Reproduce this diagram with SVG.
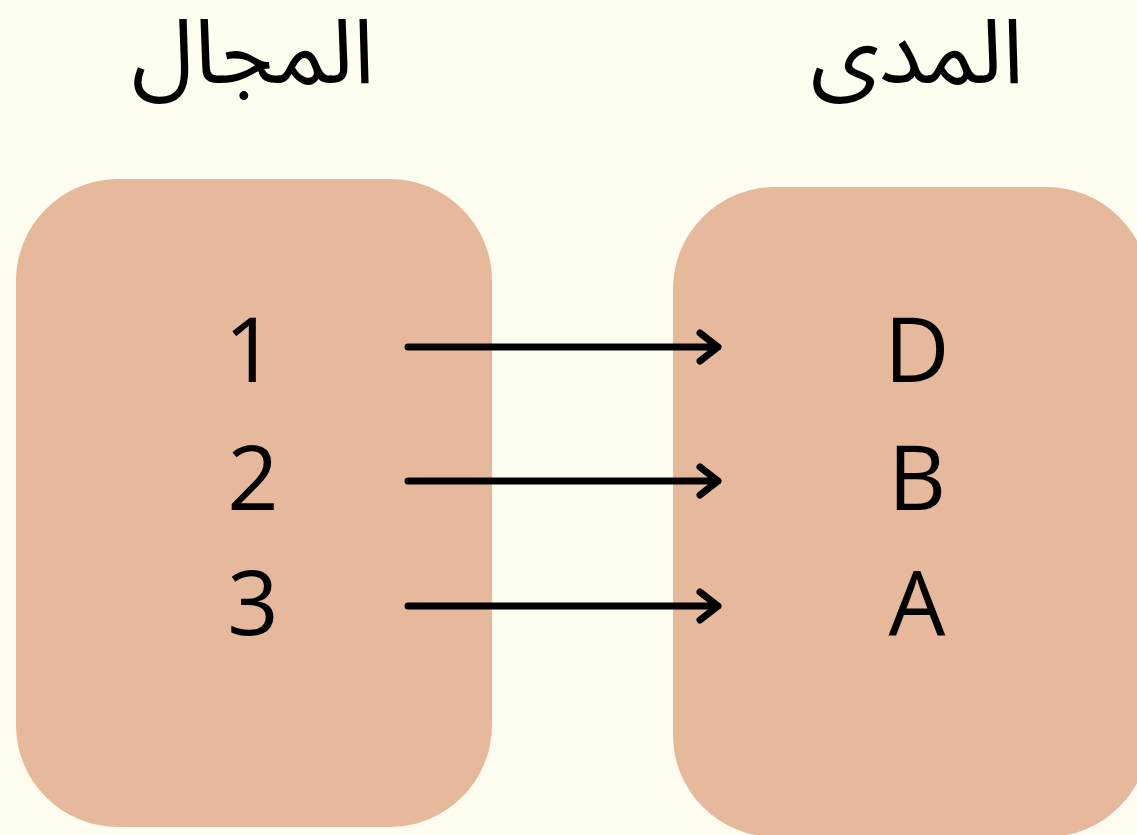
<svg xmlns="http://www.w3.org/2000/svg" width="1137" height="835" viewBox="0 0 1137 835">
<style>
.box{fill:#E6B99C}
.lbl{font-family:"Open Sans","Noto Sans",sans-serif;font-size:90px;fill:#000;text-anchor:middle}
.title{font-family:"Noto Sans Arabic","Noto Naskh Arabic","DejaVu Sans",sans-serif;font-size:90px;fill:#000;text-anchor:middle}
.arr{stroke:#000;stroke-width:7;fill:none;stroke-linecap:round;stroke-linejoin:round}
</style>
<rect width="1137" height="835" fill="#FFFCF0"/>
<g id="domain">
<rect class="box" x="16" y="179" width="476" height="648" rx="102" ry="102"/>
<text class="title" x="253" y="83" direction="rtl">المجال</text>
<text class="lbl" x="250" y="382">1</text>
<text class="lbl" x="253" y="510">2</text>
<text class="lbl" x="253" y="635">3</text>
</g>
<g id="range">
<rect class="box" x="673" y="187" width="476" height="650" rx="102" ry="102"/>
<text class="title" x="917" y="83" direction="rtl">المدى</text>
<text class="lbl" x="917" y="382">D</text>
<text class="lbl" x="917" y="510">B</text>
<text class="lbl" x="917" y="635">A</text>
</g>
<g id="connectors">
<path class="arr" d="M408 347H718M700 333L718 347L700 361"/>
<path class="arr" d="M408 481H718M700 467L718 481L700 495"/>
<path class="arr" d="M408 606H718M700 592L718 606L700 620"/>
</g>
</svg>
